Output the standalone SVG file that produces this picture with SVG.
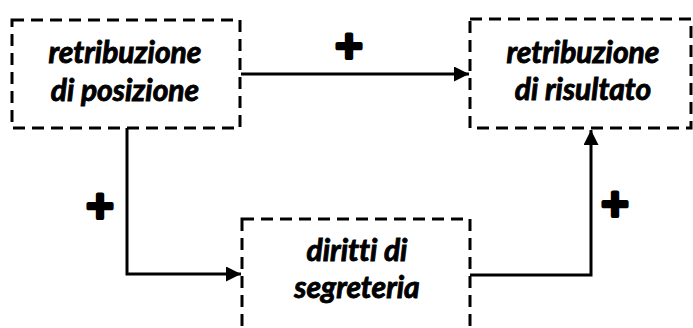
<svg xmlns="http://www.w3.org/2000/svg" width="693" height="328" viewBox="0 0 693 328">
<style>
.box{fill:none;stroke:#000;stroke-width:3;stroke-dasharray:12 7}
.lbl{font-family:Lato,"Liberation Sans",sans-serif;font-weight:bold;font-style:italic;font-size:30px;fill:#000;stroke:#000;stroke-width:0.9;text-anchor:middle;font-variant-ligatures:none}
.con{fill:none;stroke:#000;stroke-width:3}
.plus{font-family:"DejaVu Sans",sans-serif;font-weight:bold;font-size:37px;fill:#000;stroke:#000;stroke-width:4;stroke-linejoin:round;text-anchor:middle}
</style>
<defs>
<marker id="arr" viewBox="0 0 10 10" refX="10" refY="5" markerWidth="6" markerHeight="5" orient="auto" markerUnits="strokeWidth">
<path d="M0,0 L10,5 L0,10 z" fill="#000"/>
</marker>
</defs>
<rect width="693" height="328" fill="#fff"/>
<g id="connectors">
<path class="con" d="M241,74 L469,74" marker-end="url(#arr)"/>
<path class="con" d="M127,128 L127,274 L241,274" marker-end="url(#arr)"/>
<path class="con" d="M470,275 L591,275 L591,130" marker-end="url(#arr)"/>
<text class="plus" x="349" y="58">+</text>
<text class="plus" x="100" y="218">+</text>
<text class="plus" x="615" y="216">+</text>
</g>
<g id="node-posizione">
<rect class="box" x="12" y="20" width="228" height="108"/>
<text class="lbl" x="125" y="63">retribuzione</text>
<text class="lbl" x="125" y="101">di posizione</text>
</g>
<g id="node-risultato">
<rect class="box" x="470" y="19" width="221" height="109"/>
<text class="lbl" x="583" y="63">retribuzione</text>
<text class="lbl" x="583" y="100">di risultato</text>
</g>
<g id="node-segreteria">
<rect class="box" x="242" y="219" width="228" height="120"/>
<text class="lbl" x="357" y="261">diritti di</text>
<text class="lbl" x="357" y="298">segreteria</text>
</g>
</svg>
